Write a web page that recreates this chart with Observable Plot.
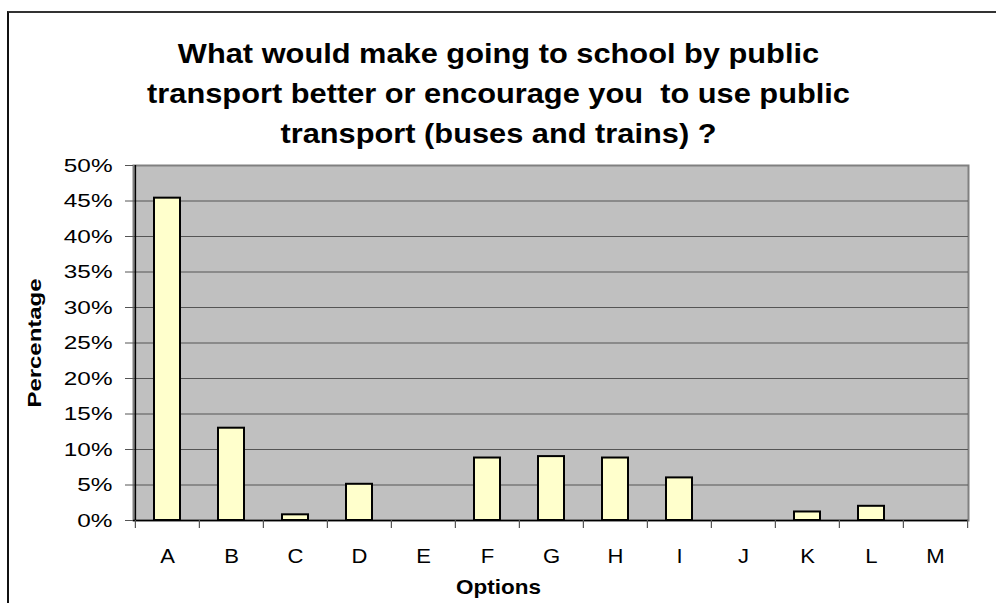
<!DOCTYPE html>
<html>
<head>
<meta charset="utf-8">
<script src="https://cdn.jsdelivr.net/npm/d3@7"></script>
<script src="https://cdn.jsdelivr.net/npm/@observablehq/plot@0.6"></script>
<style>
  html, body { margin: 0; padding: 0; background: #fff; }
  #wrap { position: relative; width: 996px; height: 603px; overflow: hidden; }
  #border { position: absolute; left: 7px; top: 11px; width: 1200px; height: 800px;
            border-left: 2px solid #111; border-top: 2px solid #333; pointer-events: none; }
  svg { font-family: "Liberation Sans", Arial, sans-serif; }
</style>
</head>
<body>
<div id="wrap"><div id="border"></div></div>
<script>
const categories = ["A","B","C","D","E","F","G","H","I","J","K","L","M"];
const values = [0.454, 0.130, 0.008, 0.051, 0, 0.088, 0.090, 0.088, 0.060, 0, 0.012, 0.020, 0];
const yTicks = [0,0.05,0.10,0.15,0.20,0.25,0.30,0.35,0.40,0.45,0.50];
const titleLines = ["What would make going to school by public",
                    "transport better or encourage you  to use public",
                    "transport (buses and trains) ?"];
const xLabel = "Options";
const yLabel = "Percentage";

const data = categories.map((c, i) => ({option: c, value: values[i]}));

const W = 996, H = 603;
const mL = 133, mR = 28, mT = 165, mB = 83;
const step = (W - mL - mR) / categories.length;
const titleShift = 498 - (mL + (W - mL - mR) / 2);

const chart = Plot.plot({
  width: W, height: H,
  marginLeft: mL, marginRight: mR, marginTop: mT, marginBottom: mB,
  style: {fontFamily: "'Liberation Sans', Arial, sans-serif", fontSize: "19px", background: "transparent", color: "#000"},
  x: {domain: categories, paddingInner: 0.6, paddingOuter: 0.3, align: 0.5},
  y: {domain: [0, 0.5]},
  marks: [
    Plot.frame({fill: "#c0c0c0", stroke: "#808080", strokeWidth: 2}),
    Plot.gridY(yTicks.slice(1, -1), {stroke: "#555", strokeOpacity: 1, strokeWidth: 1.2}),
    Plot.barY(data, {x: "option", y: "value", fill: "#ffffcc", stroke: "#000", strokeWidth: 2}),
    Plot.ruleY([0], {stroke: "#000", strokeWidth: 1.5}),
    Plot.ruleX([categories[0]], {x: d => d, dx: -step/2, y1: 0, y2: 0.5, stroke: "#000", strokeWidth: 1.5}),
    Plot.ruleX(categories, {x: d => d, dx: -step/2, y1: 0, y2: -0.0113, stroke: "#555", strokeWidth: 1.2}),
    Plot.ruleX([categories[categories.length-1]], {x: d => d, dx: step/2, y1: 0, y2: -0.0113, stroke: "#555", strokeWidth: 1.2}),
    Plot.axisY(yTicks, {tickFormat: d3.format(".0%"), tickSize: 8, tickPadding: 13, stroke: "#555", label: null}),
    Plot.axisX({tickSize: 0, tickPadding: 28, label: null}),
    ...titleLines.map((line, i) => Plot.text([line], {frameAnchor: "top", dx: titleShift, dy: -103 + 40 * i,
      lineAnchor: "bottom", fontSize: 27, fontWeight: "bold", fill: "#000", ariaLabel: () => "title"})),
    Plot.text([xLabel], {frameAnchor: "bottom", dx: titleShift, dy: 73, lineAnchor: "bottom",
      fontSize: 21, fontWeight: "bold", fill: "#000", ariaLabel: () => "x label"}),
    Plot.text([yLabel], {frameAnchor: "left", dx: -93, rotate: -90, textAnchor: "middle", lineAnchor: "bottom",
      fontSize: 18, fontWeight: "bold", fill: "#000", ariaLabel: () => "y label"})
  ]
});
document.getElementById("wrap").insertBefore(chart, document.getElementById("border"));

function adjust(label, size, factor) {
  chart.querySelectorAll(`g[aria-label="${label}"] text, text[aria-label="${label}"]`).forEach(t => {
    t.setAttribute("font-size", size);
    if (factor !== 1) {
      const len = t.getComputedTextLength();
      t.setAttribute("textLength", (len * factor).toFixed(1));
      t.setAttribute("lengthAdjust", "spacingAndGlyphs");
    }
  });
}
adjust("y-axis tick label", 19, 1.28);
adjust("x-axis tick label", 21, 1.05);
adjust("title", 27, 1.14);
adjust("x label", 21, 1.07);
adjust("y label", 18, 1.33);
</script>
</body>
</html>
